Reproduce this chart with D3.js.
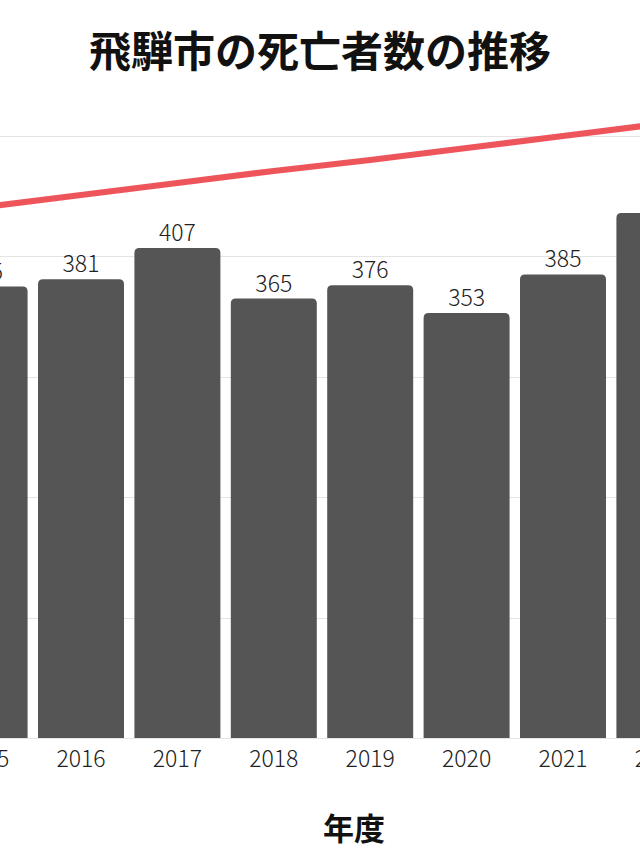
<!DOCTYPE html>
<html>
<head>
<meta charset="utf-8">
<script src="https://cdn.jsdelivr.net/npm/d3@7"></script>
<style>
  html, body { margin: 0; padding: 0; background: #fff; overflow: hidden; }
  text { font-family: "Noto Sans CJK JP", "Noto Sans", sans-serif; }
</style>
</head>
<body>
<div id="chart"></div>
<script>
// deaths per year (Hida city), only the visible part of the chart
var years = ['2015', '2016', '2017', '2018', '2019', '2020', '2021', '2022'];
var deaths = [375, 381, 407, 365, 376, 353, 385, 436];
// red trend line, read at each year
var trend = [441, 451, 461, 471, 480, 490, 500, 510];
var yTicks = [0, 100, 200, 300, 400, 500];

var width = 640,
  height = 853;

var svg = d3.select('#chart').append('svg')
  .attr('width', width)
  .attr('height', height);

// the plot is wider than the window, so the band range spills out on both sides
var x = d3.scaleBand()
  .domain(years)
  .range([-63.6, 707.6])
  .paddingInner(0.108)
  .paddingOuter(0.054);

var y = d3.scaleLinear()
  .domain([0, 500])
  .range([738, 136]);

// gridlines
svg.append('g')
  .selectAll('line')
  .data(yTicks)
  .enter()
  .append('line')
  .attr('x1', 0)
  .attr('x2', width)
  .attr('y1', d => Math.round(y(d)) + 0.5)
  .attr('y2', d => Math.round(y(d)) + 0.5)
  .attr('stroke', '#e4e4e4')
  .attr('stroke-width', 1);

// bars with rounded tops
var r = 5;
svg.append('g')
  .selectAll('path')
  .data(deaths)
  .enter()
  .append('path')
  .attr('d', function(d, i) {
    var x0 = x(years[i]),
      x1 = x0 + x.bandwidth(),
      y0 = y(0),
      y1 = y(d);
    return 'M' + x0 + ',' + y0 +
      'V' + (y1 + r) +
      'Q' + x0 + ',' + y1 + ' ' + (x0 + r) + ',' + y1 +
      'H' + (x1 - r) +
      'Q' + x1 + ',' + y1 + ' ' + x1 + ',' + (y1 + r) +
      'V' + y0 + 'Z';
  })
  .attr('fill', '#555555');

// value labels
svg.append('g')
  .selectAll('text')
  .data(deaths)
  .enter()
  .append('text')
  .attr('x', (d, i) => x(years[i]) + x.bandwidth() / 2)
  .attr('y', d => y(d) - 7)
  .attr('text-anchor', 'middle')
  .attr('font-size', 23)
  .attr('font-weight', 300)
  .attr('fill', '#222')
  .text(d => d);

// x axis
var xAxis = svg.append('g')
  .attr('transform', 'translate(0,' + y(0) + ')')
  .call(d3.axisBottom(x).tickSize(0).tickPadding(13));
xAxis.select('.domain').remove();
xAxis.selectAll('text')
  .attr('font-size', 23)
  .attr('font-weight', 300)
  .attr('fill', '#222')
  .style('font-family', '"Noto Sans CJK JP", "Noto Sans", sans-serif');

// trend line
var line = d3.line()
  .x((d, i) => x(years[i]) + x.bandwidth() / 2)
  .y(d => y(d));

svg.append('path')
  .datum(trend)
  .attr('d', line)
  .attr('fill', 'none')
  .attr('stroke', '#ee555b')
  .attr('stroke-width', 6);

// titles
svg.append('text')
  .attr('x', 320)
  .attr('y', 67)
  .attr('text-anchor', 'middle')
  .attr('font-size', 42)
  .attr('font-weight', 'bold')
  .attr('fill', '#111')
  .text('飛騨市の死亡者数の推移');

svg.append('text')
  .attr('x', 354)
  .attr('y', 840)
  .attr('text-anchor', 'middle')
  .attr('font-size', 31)
  .attr('font-weight', 'bold')
  .attr('fill', '#111')
  .text('年度');
</script>
</body>
</html>
